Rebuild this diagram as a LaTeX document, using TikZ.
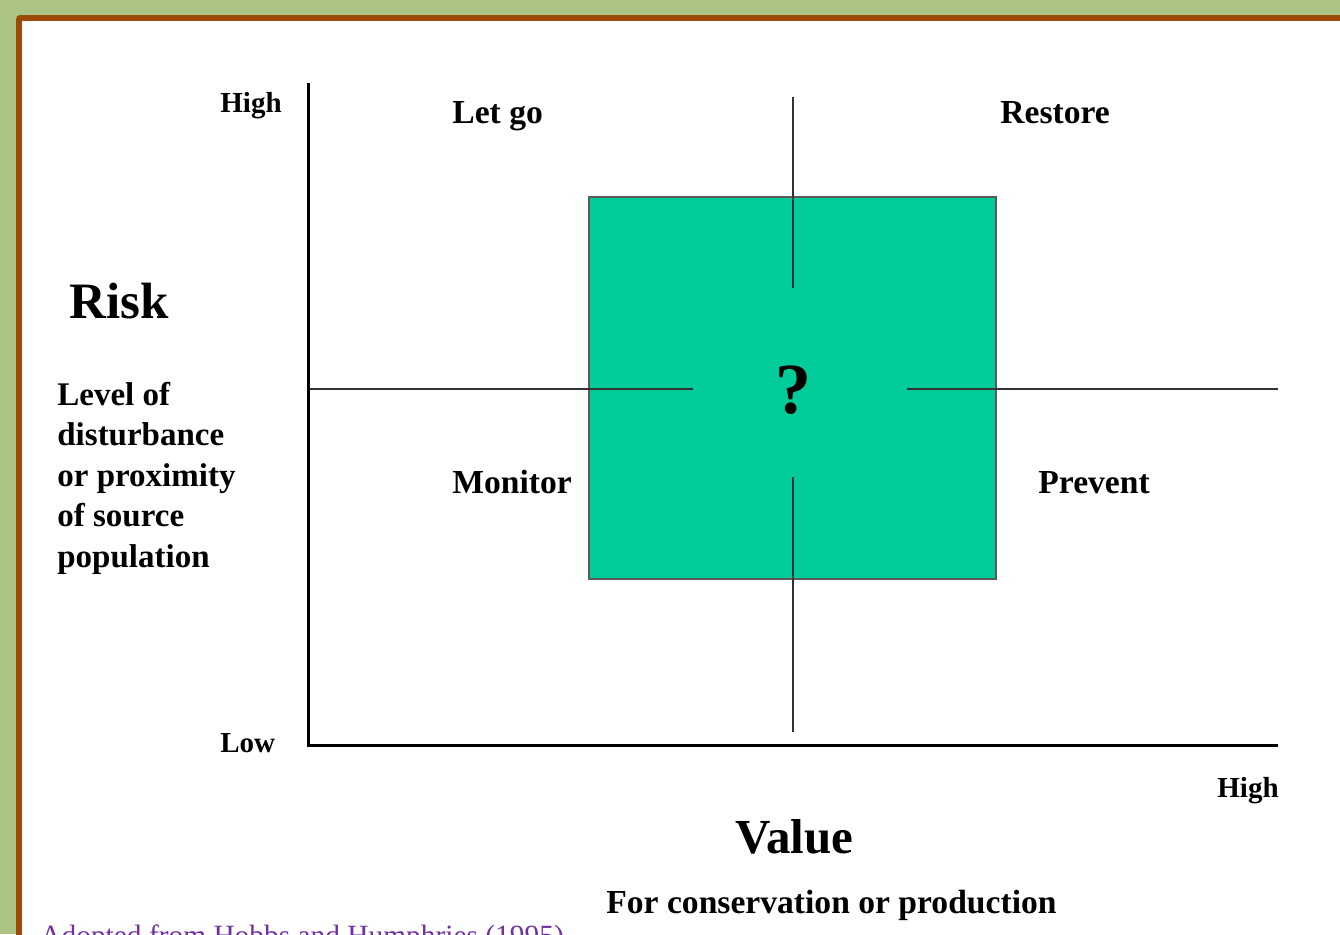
\documentclass[tikz,border=0pt]{standalone}
\usepackage{fontspec}
\setmainfont{Liberation Serif}
\usetikzlibrary{positioning}

\definecolor{framegreen}{HTML}{ABC486}
\definecolor{framebrown}{HTML}{9C4A06}
\definecolor{boxgreen}{HTML}{00CC99}
\definecolor{notepurple}{HTML}{7030A0}

\begin{document}
\begin{tikzpicture}[
    x=0.5pt, y=-0.5pt,
    quad/.style={font=\bfseries\fontsize{16.8}{20}\selectfont, inner sep=0pt, anchor=base west},
    endword/.style={font=\bfseries\fontsize{14.5}{17}\selectfont, inner sep=0pt, anchor=base west},
    bigword/.style={font=\bfseries\fontsize{25.5}{30}\selectfont, inner sep=0pt, anchor=base west},
    axisline/.style={line width=1.5pt, black},
    cross/.style={line width=1pt, black!80}
  ]
  \useasboundingbox (0,0) rectangle (1340,934);
  % frame
  \fill[framegreen] (0,0) rectangle (1340,934);
  \fill[framebrown, rounded corners=2pt] (16,15) rectangle (1350,950);
  \fill[white] (22,21) rectangle (1350,950);

  % middle square
  \node (square) [fill=boxgreen, draw=black!65, line width=1pt,
    minimum width=203.5pt, minimum height=191pt, inner sep=0pt] at (792.5,388) {};
  \node (qmark) [font=\bfseries\fontsize{36}{40}\selectfont, inner sep=0pt] at (793,390) {?};

  % cross
  \coordinate (up1) at (793,97);
  \coordinate (up2) at (793,288);
  \coordinate (dn1) at (793,477);
  \coordinate (dn2) at (793,732);
  \coordinate (lt1) at (308,389);
  \coordinate (lt2) at (693,389);
  \coordinate (rt1) at (907,389);
  \coordinate (rt2) at (1278,389);
  \draw[cross] (up1) -- (up2);
  \draw[cross] (dn1) -- (dn2);
  \draw[cross] (lt1) -- (lt2);
  \draw[cross] (rt1) -- (rt2);

  % axes
  \coordinate (ytop) at (308,83);
  \coordinate (origin) at (308,745);
  \coordinate (xend) at (1278,745);
  \draw[axisline] (ytop) -- (origin) -- (xend);

  % quadrants
  \node (letgo) [quad] at (452,123) {Let go};
  \node (restore) [quad] at (1000,123) {Restore};
  \node (monitor) [quad] at (452,493) {Monitor};
  \node (prevent) [quad] at (1038,493) {Prevent};

  % axis ends
  \node (yhigh) [endword] at (220,112) {High};
  \node (ylow) [endword] at (220,752) {Low};
  \node (xhigh) [endword] at (1217,797) {High};

  % axis titles
  \node (risk) [bigword] at (69,318) {Risk};
  \node (level) [quad, align=left, font=\bfseries\fontsize{16.5}{20.25}\selectfont] at (57,567)
    {Level of\\disturbance\\or proximity\\of source\\population};
  \node (value) [bigword, font=\bfseries\fontsize{24.5}{30}\selectfont] at (735,853) {Value};
  \node (usage) [quad] at (606,913) {For conservation or production};

  % source
  \node (source) [inner sep=0pt, anchor=base west, text=notepurple,
    font=\fontsize{14.7}{17}\selectfont] at (40,945) {Adopted from Hobbs and Humphries (1995)};
\end{tikzpicture}
\end{document}
